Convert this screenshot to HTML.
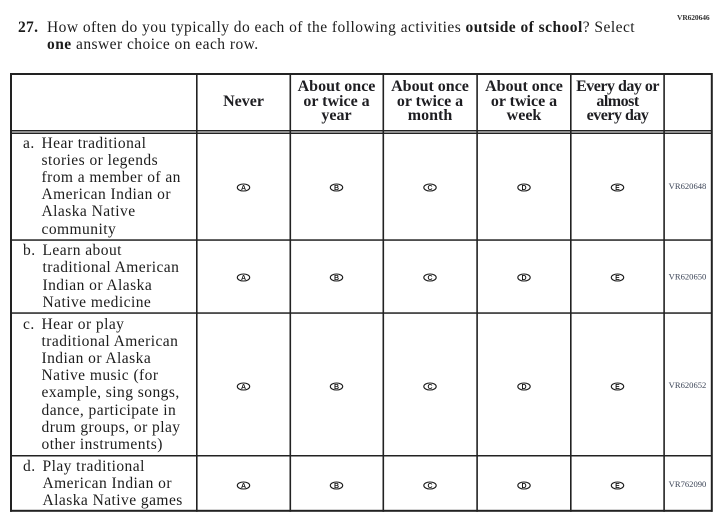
<!DOCTYPE html>
<html>
<head>
<meta charset="utf-8">
<style>
  html,body{margin:0;padding:0;background:#fff;}
  body{width:725px;height:519px;position:relative;overflow:hidden;
       font-family:"Liberation Serif",serif;color:#1c1c1c;}
  .abs{position:absolute;white-space:nowrap;}
  .title{font-size:15.5px;line-height:17px;letter-spacing:0.46px;}
  .body{font-size:15.5px;line-height:17.24px;letter-spacing:0.45px;}
  .hdr{position:absolute;top:74px;height:56px;display:flex;align-items:center;justify-content:center;
       text-align:center;font-weight:bold;font-size:16px;line-height:14.4px;color:#1e1e22;white-space:nowrap;}
  b{font-weight:bold;}
</style>
</head>
<body>

<div class="abs" style="left:677px;top:13px;font-size:7.5px;color:#333;font-weight:bold;letter-spacing:-0.1px;">VR620646</div>

<div class="abs title" style="left:18px;top:19px;font-weight:bold;letter-spacing:0.3px;">27.</div>
<div class="abs title" style="left:47px;top:19px;">How often do you typically do each of the following activities <b>outside of school</b>? Select<br><b>one</b> answer choice on each row.</div>

<svg class="abs" style="left:0;top:0;" width="725" height="519" xmlns="http://www.w3.org/2000/svg">
  <g fill="#222">
    <rect x="10" y="73" width="702.5" height="2"/>
    <rect x="10" y="130" width="702.5" height="1.5"/>
    <rect x="10" y="132.5" width="702.5" height="1.5"/>
    <rect x="10" y="239.3" width="702.5" height="1.5"/>
    <rect x="10" y="312.3" width="702.5" height="1.5"/>
    <rect x="10" y="455" width="702.5" height="1.5"/>
    <rect x="10" y="509.8" width="702.5" height="2"/>
    <rect x="10" y="73" width="2" height="438.8"/>
    <rect x="196" y="73" width="1.6" height="438.8"/>
    <rect x="289.5" y="73" width="1.6" height="438.8"/>
    <rect x="382.5" y="73" width="1.6" height="438.8"/>
    <rect x="476.3" y="73" width="1.6" height="438.8"/>
    <rect x="570" y="73" width="1.6" height="438.8"/>
    <rect x="663.3" y="73" width="1.6" height="438.8"/>
    <rect x="710.8" y="73" width="2" height="438.8"/>
  </g>
  <g fill="none" stroke="#1a1a1a" stroke-width="1.1">
    <ellipse cx="243.5" cy="187.5" rx="6.2" ry="3.5"/>
    <ellipse cx="336.5" cy="187.5" rx="6.2" ry="3.5"/>
    <ellipse cx="430" cy="187.5" rx="6.2" ry="3.5"/>
    <ellipse cx="524" cy="187.5" rx="6.2" ry="3.5"/>
    <ellipse cx="617.5" cy="187.5" rx="6.2" ry="3.5"/>

    <ellipse cx="243.5" cy="277.5" rx="6.2" ry="3.5"/>
    <ellipse cx="336.5" cy="277.5" rx="6.2" ry="3.5"/>
    <ellipse cx="430" cy="277.5" rx="6.2" ry="3.5"/>
    <ellipse cx="524" cy="277.5" rx="6.2" ry="3.5"/>
    <ellipse cx="617.5" cy="277.5" rx="6.2" ry="3.5"/>

    <ellipse cx="243.5" cy="386.5" rx="6.2" ry="3.5"/>
    <ellipse cx="336.5" cy="386.5" rx="6.2" ry="3.5"/>
    <ellipse cx="430" cy="386.5" rx="6.2" ry="3.5"/>
    <ellipse cx="524" cy="386.5" rx="6.2" ry="3.5"/>
    <ellipse cx="617.5" cy="386.5" rx="6.2" ry="3.5"/>

    <ellipse cx="243.5" cy="485.5" rx="6.2" ry="3.5"/>
    <ellipse cx="336.5" cy="485.5" rx="6.2" ry="3.5"/>
    <ellipse cx="430" cy="485.5" rx="6.2" ry="3.5"/>
    <ellipse cx="524" cy="485.5" rx="6.2" ry="3.5"/>
    <ellipse cx="617.5" cy="485.5" rx="6.2" ry="3.5"/>
  </g>
  <g font-family="Liberation Sans, sans-serif" font-size="7" font-weight="bold" fill="#1a1a1a" text-anchor="middle">
    <text x="243.5" y="190">A</text><text x="336.5" y="190">B</text><text x="430" y="190">C</text><text x="524" y="190">D</text><text x="617.5" y="190">E</text>
    <text x="243.5" y="280">A</text><text x="336.5" y="280">B</text><text x="430" y="280">C</text><text x="524" y="280">D</text><text x="617.5" y="280">E</text>
    <text x="243.5" y="389">A</text><text x="336.5" y="389">B</text><text x="430" y="389">C</text><text x="524" y="389">D</text><text x="617.5" y="389">E</text>
    <text x="243.5" y="488">A</text><text x="336.5" y="488">B</text><text x="430" y="488">C</text><text x="524" y="488">D</text><text x="617.5" y="488">E</text>
  </g>
  <g font-family="Liberation Serif, serif" font-size="8.6" fill="#3d4658" text-anchor="middle">
    <text x="687.5" y="189">VR620648</text>
    <text x="687.5" y="279.5">VR620650</text>
    <text x="687.5" y="388">VR620652</text>
    <text x="687.5" y="487">VR762090</text>
  </g>
</svg>

<div class="hdr" style="left:197px;width:93px;">Never</div>
<div class="hdr" style="left:290px;width:93px;">About once<br>or twice a<br>year</div>
<div class="hdr" style="left:383px;width:94px;">About once<br>or twice a<br>month</div>
<div class="hdr" style="left:477px;width:94px;">About once<br>or twice a<br>week</div>
<div class="hdr" style="left:571px;width:93px;letter-spacing:-0.5px;">Every day or<br>almost<br>every day</div>

<div class="abs body" style="left:23px;top:134.5px;">a.</div>
<div class="abs body" style="left:41.5px;top:134.5px;">Hear traditional<br>stories or legends<br>from a member of an<br>American Indian or<br>Alaska Native<br>community</div>

<div class="abs body" style="left:23px;top:242.2px;">b.</div>
<div class="abs body" style="left:42.5px;top:242.2px;">Learn about<br>traditional American<br>Indian or Alaska<br>Native medicine</div>

<div class="abs body" style="left:23px;top:315.5px;">c.</div>
<div class="abs body" style="left:41.5px;top:315.5px;">Hear or play<br>traditional American<br>Indian or Alaska<br>Native music (for<br>example, sing songs,<br>dance, participate in<br>drum groups, or play<br>other instruments)</div>

<div class="abs body" style="left:23px;top:457.9px;">d.</div>
<div class="abs body" style="left:42.5px;top:457.9px;">Play traditional<br>American Indian or<br>Alaska Native games</div>

</body>
</html>
